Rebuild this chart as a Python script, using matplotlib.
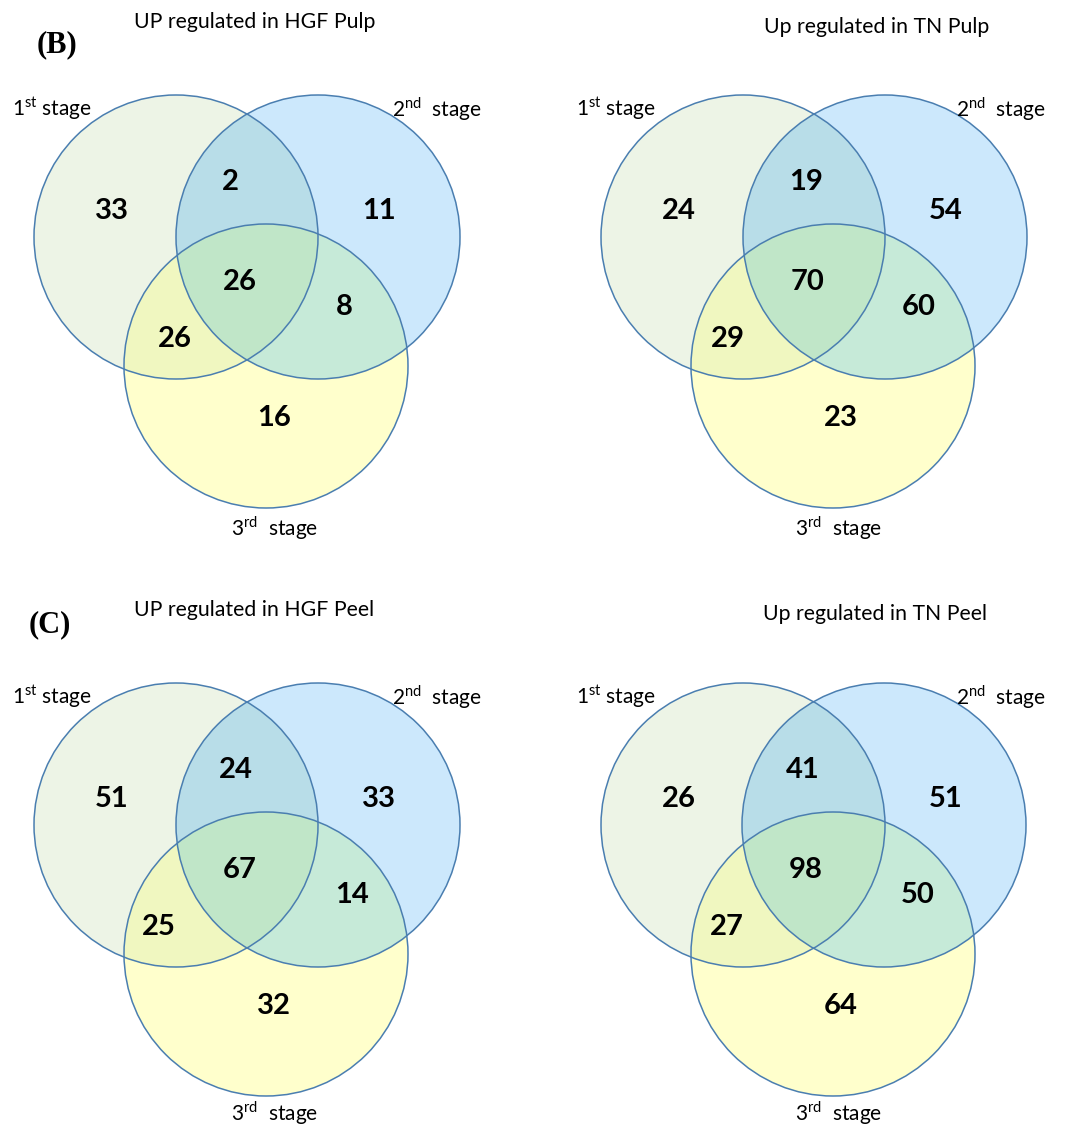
import matplotlib
matplotlib.use("Agg")
import matplotlib.pyplot as plt
import numpy as np
from matplotlib.patches import Circle, Polygon

plt.rcParams['font.family'] = ['Lato', 'DejaVu Sans']
plt.rcParams['mathtext.fontset'] = 'custom'
plt.rcParams['mathtext.rm'] = 'Lato'

# region order: 1st only, 1st&2nd, 2nd only, all three, 2nd&3rd, 1st&3rd, 3rd only
titles = ["UP regulated in HGF Pulp", "Up regulated in TN Pulp",
          "UP regulated in HGF Peel", "Up regulated in TN Peel"]
hgf_pulp = [33, 2, 11, 26, 8, 26, 16]
tn_pulp = [24, 19, 54, 70, 60, 29, 23]
hgf_peel = [51, 24, 33, 67, 14, 25, 32]
tn_peel = [26, 41, 51, 98, 50, 27, 64]
stage_labels = [r"1$^{\rm st}$ stage", r"2$^{\rm nd}$  stage", r"3$^{\rm rd}$  stage"]
panel_tags = ["(B)", "(C)"]

counts = [hgf_pulp, tn_pulp, hgf_peel, tn_peel]

# layout in pixel coordinates
R = 142
centers = [
    [(176, 237), (318, 237), (266, 366)],
    [(743, 237), (885, 237), (833, 366)],
    [(176, 825), (318, 825), (266, 954)],
    [(743, 825), (884, 825), (833, 954)],
]
count_pos = [
    [(112, 211), (230, 182), (379, 211), (240, 282), (344, 307), (175, 339), (274, 418)],
    [(679, 211), (806, 182), (946, 211), (808, 282), (919, 307), (728, 339), (841, 418)],
    [(112, 799), (236, 770), (379, 799), (240, 870), (352, 895), (159, 927), (274, 1006)],
    [(679, 799), (803, 770), (946, 799), (806, 870), (918, 895), (727, 927), (841, 1006)],
]
title_pos = [(255, 22), (877, 27), (254, 610), (875, 614)]
stage_pos = [
    [(12, 109), (392, 109), (231, 528)],
    [(576, 109), (956, 109), (795, 528)],
    [(12, 697), (392, 697), (231, 1113)],
    [(576, 697), (956, 697), (795, 1113)],
]
tag_pos = [(37, 45), (29, 625)]

c_a, c_b, c_c = '#EDF4E6', '#CCE8FC', '#FFFFCC'
c_ab, c_ac, c_bc, c_abc = '#B8DDE8', '#F0F7C0', '#C6EAD8', '#C0E6C8'
edge = '#4A7EB0'

fig = plt.figure(figsize=(10.74, 11.26), dpi=100)
ax = fig.add_axes([0, 0, 1, 1])
ax.set_xlim(0, 1074)
ax.set_ylim(1126, 0)
ax.axis('off')


def triple_region(cs, r):
    pts = []
    t = np.linspace(0, 2 * np.pi, 3000)
    for i, (cx, cy) in enumerate(cs):
        p = np.column_stack([cx + r * np.cos(t), cy + r * np.sin(t)])
        keep = np.ones(len(p), bool)
        for j, (ox, oy) in enumerate(cs):
            if j != i:
                keep &= np.hypot(p[:, 0] - ox, p[:, 1] - oy) <= r + 1e-6
        pts.append(p[keep])
    pts = np.vstack(pts)
    m = pts.mean(axis=0)
    order = np.argsort(np.arctan2(pts[:, 1] - m[1], pts[:, 0] - m[0]))
    return pts[order]


def draw_venn(cs, values, positions):
    a, b, c = cs
    ca = Circle(a, R, fc=c_a, ec='none')
    cb = Circle(b, R, fc=c_b, ec='none')
    cc = Circle(c, R, fc=c_c, ec='none')
    for p in (ca, cb, cc):
        ax.add_patch(p)
    # pairwise overlaps
    for base, clip, col in ((a, cb, c_ab), (a, cc, c_ac), (b, cc, c_bc)):
        p = Circle(base, R, fc=col, ec='none')
        ax.add_patch(p)
        p.set_clip_path(clip)
    ax.add_patch(Polygon(triple_region(cs, R), closed=True, fc=c_abc, ec='none'))
    for ctr in cs:
        ax.add_patch(Circle(ctr, R, fc='none', ec=edge, lw=1.1))
    for v, (x, y) in zip(values, positions):
        ax.text(x, y, str(v), ha='center', va='center', fontsize=21,
                fontweight='bold', color='black')


for k in range(4):
    draw_venn(centers[k], counts[k], count_pos[k])
    ax.text(*title_pos[k], titles[k], ha='center', va='center', fontsize=15.3)
    for lab, (x, y) in zip(stage_labels, stage_pos[k]):
        ax.text(x, y, lab, ha='left', va='center', fontsize=15)

for tag, (x, y) in zip(panel_tags, tag_pos):
    ax.text(x, y, tag, ha='left', va='center', fontsize=22, fontweight='bold',
            family='Liberation Serif')

fig.savefig('out.png', dpi=100)
